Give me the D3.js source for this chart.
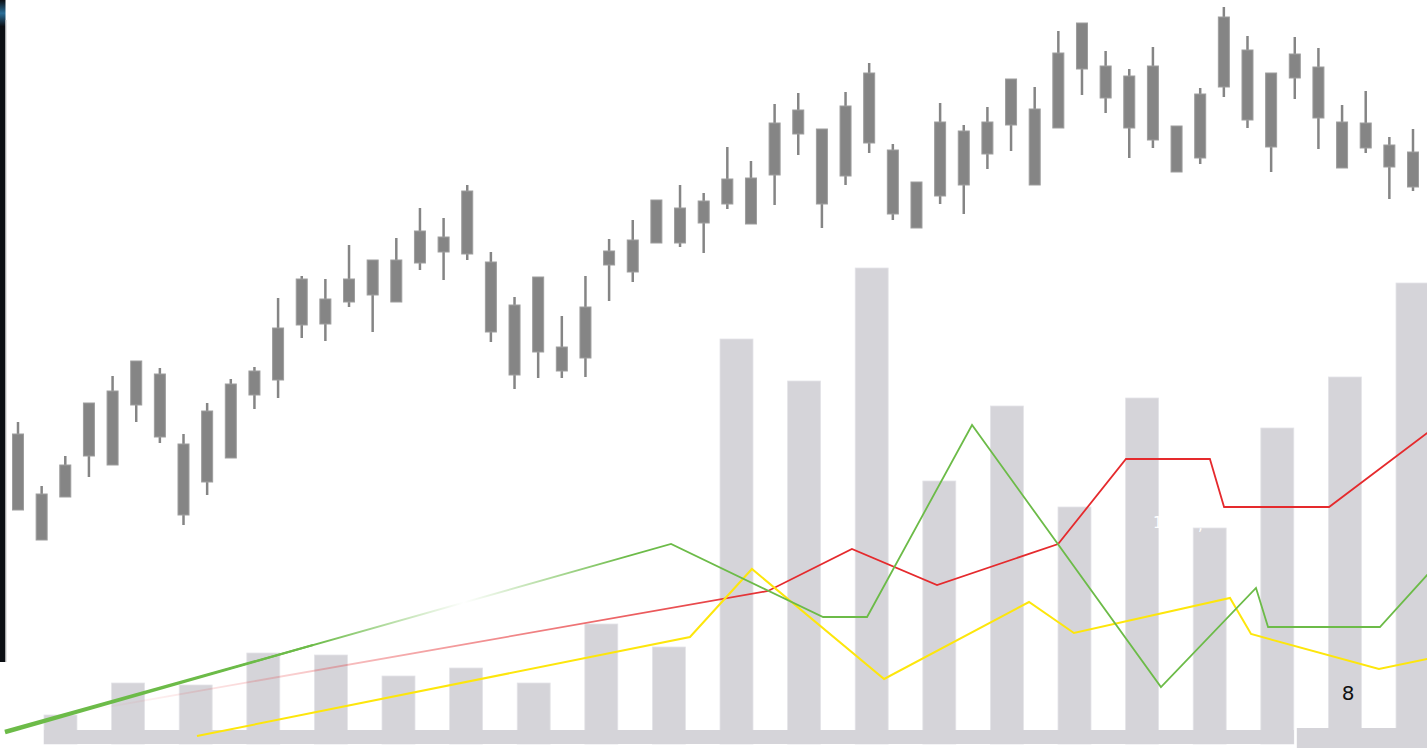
<!DOCTYPE html>
<html>
<head>
<meta charset="utf-8">
<script src="https://cdn.jsdelivr.net/npm/d3@7"></script>
<style>
  html, body { margin: 0; padding: 0; background: #fff; overflow: hidden; }
  svg { display: block; }
</style>
</head>
<body>
<div id="chart"></div>
<script>
const WIDTH = 1427;
const HEIGHT = 748;

// 60 sessions, price units (all candles drawn in the same grey)
const CANDLE_HIGH = [35.6, 22.8, 28.8, 39.4, 44.8, 47.8, 46.4, 33.2, 39.4, 44.2,
  46.6, 60.4, 64.8, 64.2, 71.0, 68.0, 72.4, 78.4, 76.4, 83.0,
  69.6, 60.6, 64.6, 56.8, 64.8, 72.2, 76.0, 80.0, 83.0, 81.4,
  90.6, 87.8, 99.2, 101.4, 94.2, 101.6, 107.4, 91.2, 83.6, 99.4,
  95.0, 98.6, 104.2, 102.6, 113.8, 115.4, 109.8, 106.2, 110.6, 94.8,
  102.4, 118.6, 112.8, 105.4, 112.6, 110.4, 99.0, 101.8, 92.6, 94.2];
const BODY_TOP = [33.2, 21.2, 27.0, 39.4, 41.8, 47.8, 45.2, 31.2, 37.8, 43.2,
  45.8, 54.4, 64.2, 60.2, 64.2, 68.0, 68.0, 73.8, 72.6, 81.8,
  67.6, 59.0, 64.6, 50.6, 58.6, 69.8, 72.0, 80.0, 78.4, 79.8,
  84.2, 84.4, 95.4, 98.0, 94.2, 98.8, 105.4, 90.0, 83.6, 95.6,
  93.8, 95.6, 104.2, 98.2, 109.4, 115.4, 106.8, 104.8, 106.8, 94.8,
  101.2, 116.6, 110.0, 105.4, 109.2, 106.6, 95.6, 95.4, 91.0, 89.6];
const BODY_BOTTOM = [18.0, 12.0, 20.6, 28.8, 27.0, 39.0, 32.6, 17.0, 23.6, 28.4,
  41.0, 44.0, 55.0, 55.2, 59.6, 61.0, 59.6, 67.4, 69.6, 69.2,
  53.6, 45.0, 49.6, 45.8, 48.4, 67.0, 65.6, 71.4, 71.4, 75.4,
  79.2, 75.2, 85.0, 93.2, 79.2, 84.8, 91.4, 77.2, 74.4, 80.8,
  83.0, 89.2, 95.0, 83.0, 94.4, 106.2, 100.4, 94.4, 92.0, 85.6,
  88.4, 102.6, 96.0, 90.6, 104.4, 96.4, 86.4, 90.4, 86.6, 82.6];
const CANDLE_LOW = [18.0, 12.0, 20.6, 24.6, 27.0, 35.6, 31.4, 15.0, 21.0, 28.4,
  38.2, 40.4, 52.4, 51.8, 58.6, 53.6, 59.6, 66.0, 64.0, 68.0,
  51.6, 42.2, 44.4, 44.4, 44.6, 59.8, 63.6, 71.4, 70.6, 69.4,
  78.2, 75.2, 79.0, 89.0, 74.4, 83.0, 89.4, 76.0, 74.4, 79.2,
  77.2, 86.2, 89.8, 83.0, 94.4, 101.0, 97.4, 88.4, 90.4, 85.6,
  87.2, 100.6, 94.4, 85.6, 100.2, 90.2, 86.4, 89.4, 80.2, 81.8];

// volume bars
const VOLUME = [5.8, 12.2, 11.8, 18.2, 17.8, 13.6, 15.2, 12.2, 24.0, 19.4,
  81.0, 72.6, 95.2, 52.6, 67.6, 47.4, 69.2, 43.2, 63.2, 73.4, 92.2];

// indicator lines: x in session index, y in indicator units
const GREEN_T = [-0.55, 27.62, 34.05, 35.91, 40.35, 48.34, 52.36, 52.87, 57.60, 60];
const GREEN_V = [2.0, 49.0, 30.75, 30.75, 78.75, 13.25, 38.0, 28.25, 28.25, 43.9];
const RED_T = [-0.55, 31.72, 35.27, 38.87, 43.99, 46.86, 50.41, 51.01, 55.45, 60];
const RED_V = [3.75, 37.25, 47.75, 38.75, 49.0, 70.25, 70.25, 58.25, 58.25, 78.55];
const YELLOW_T = [7.57, 28.42, 31.04, 36.63, 42.76, 44.66, 51.26, 52.15, 57.56, 60];
const YELLOW_V = [1.0, 25.75, 42.75, 15.25, 34.5, 26.75, 35.5, 26.5, 17.75, 20.75];

const GREEN = "#6cbb48";
const RED = "#e52a2d";
const YELLOW = "#fde60c";
const CANDLE_GREY = "#858585";
const BAR_GREY = "#d5d4d9";

const svg = d3.select('#chart').append('svg')
  .attr('width', WIDTH)
  .attr('height', HEIGHT);

const xCandle = d3.scaleLinear().domain([0, 59]).range([18, 1413]);
const yPrice = d3.scaleLinear().domain([0, 120]).range([600, 0]);
const xBar = d3.scaleBand().domain(d3.range(VOLUME.length)).range([44, 1429]).paddingInner(0.512);
const yVol = d3.scaleLinear().domain([0, 100]).range([744, 244]);
const yInd = d3.scaleLinear().domain([0, 80]).range([740, 420]);

const defs = svg.append('defs');

// left dark edge
const edge = defs.append('linearGradient').attr('id', 'edgeGlow')
  .attr('x1', 0).attr('y1', 0).attr('x2', 0).attr('y2', 1);
edge.append('stop').attr('offset', 0).attr('stop-color', '#0b0e13');
edge.append('stop').attr('offset', 0.02).attr('stop-color', '#2a6e98');
edge.append('stop').attr('offset', 0.04).attr('stop-color', '#0b0e13');
edge.append('stop').attr('offset', 1).attr('stop-color', '#0b0e13');
svg.append('rect').attr('x', 0).attr('y', 0).attr('width', 5.5).attr('height', 662)
  .attr('fill', 'url(#edgeGlow)');
svg.append('line').attr('x1', 6).attr('x2', 6).attr('y1', 20).attr('y2', 662)
  .attr('stroke', '#c8c8c8').attr('stroke-width', 1);

// volume bars
const bw = xBar.bandwidth();
svg.append('g').selectAll('rect')
  .data(VOLUME)
  .enter()
  .append('rect')
  .attr('x', (d, i) => xBar(i))
  .attr('y', d => yVol(d))
  .attr('width', bw)
  .attr('height', d => yVol(0) - yVol(d))
  .attr('fill', BAR_GREY)
  .attr('stroke', '#e4e4e8')
  .attr('stroke-width', 0.8);

// base band under the volume bars (drawn over the bar feet)
const lastLeft = 18;
svg.append('rect')
  .attr('x', xBar(0)).attr('y', yVol(2.8))
  .attr('width', xBar(lastLeft) + bw - xBar(0)).attr('height', yVol(0) - yVol(2.8))
  .attr('fill', BAR_GREY);
svg.append('rect')
  .attr('x', xBar(lastLeft) + bw + 3).attr('y', yVol(3.2))
  .attr('width', WIDTH - (xBar(lastLeft) + bw + 3)).attr('height', HEIGHT - yVol(3.2))
  .attr('fill', BAR_GREY);

// white value labels, barely visible against the bars
svg.append('text').attr('x', 1153).attr('y', 528)
  .attr('font-family', 'DejaVu Sans, sans-serif').attr('font-size', 15)
  .attr('fill', '#fff').text('14');
svg.append('text').attr('x', 1198).attr('y', 530)
  .attr('font-family', 'DejaVu Sans, sans-serif').attr('font-size', 15)
  .attr('fill', '#fff').text(',');

// indicator lines
function gradient(id, color, stops) {
  const g = defs.append('linearGradient').attr('id', id)
    .attr('gradientUnits', 'userSpaceOnUse')
    .attr('x1', 0).attr('y1', 0).attr('x2', WIDTH).attr('y2', 0);
  stops.forEach(s => g.append('stop').attr('offset', s[0])
    .attr('stop-color', color).attr('stop-opacity', s[1]));
}
gradient('greenFade', GREEN, [[0, 1], [0.22, 1], [0.325, 0], [0.44, 1], [1, 1]]);
gradient('redFade', RED, [[0, 0], [0.06, 0], [0.2, 0.22], [0.4, 0.65], [0.55, 1], [1, 1]]);

const line = d3.line().x(d => xCandle(d[0])).y(d => yInd(d[1]));
const greenPts = d3.zip(GREEN_T, GREEN_V);
const redPts = d3.zip(RED_T, RED_V);
const yellowPts = d3.zip(YELLOW_T, YELLOW_V);

// green gets a tapered start
{
  const p0 = [xCandle(greenPts[0][0]), yInd(greenPts[0][1])];
  const p1 = [xCandle(greenPts[1][0]), yInd(greenPts[1][1])];
  const len = Math.hypot(p1[0] - p0[0], p1[1] - p0[1]);
  const ux = (p1[0] - p0[0]) / len, uy = (p1[1] - p0[1]) / len;
  const nx = -uy, ny = ux;
  const k = 320 / len;
  const pm = [p0[0] + (p1[0] - p0[0]) * k, p0[1] + (p1[1] - p0[1]) * k];
  svg.append('path')
    .attr('d', d3.line()([
      [p0[0] + nx * 2.4, p0[1] + ny * 2.4],
      [pm[0] + nx * 1, pm[1] + ny * 1],
      [pm[0] - nx * 1, pm[1] - ny * 1],
      [p0[0] - nx * 2.4, p0[1] - ny * 2.4]
    ]) + 'Z')
    .attr('fill', GREEN);
}

svg.append('path').attr('d', line(redPts))
  .attr('fill', 'none').attr('stroke', 'url(#redFade)').attr('stroke-width', 1.8);
svg.append('path').attr('d', line(yellowPts))
  .attr('fill', 'none').attr('stroke', YELLOW).attr('stroke-width', 2);
svg.append('path').attr('d', line(greenPts))
  .attr('fill', 'none').attr('stroke', 'url(#greenFade)').attr('stroke-width', 1.8);

// candles
const candles = svg.append('g').selectAll('g')
  .data(d3.range(CANDLE_HIGH.length))
  .enter()
  .append('g');

candles.append('line')
  .attr('x1', i => xCandle(i)).attr('x2', i => xCandle(i))
  .attr('y1', i => yPrice(CANDLE_HIGH[i]))
  .attr('y2', i => yPrice(CANDLE_LOW[i]))
  .attr('stroke', CANDLE_GREY)
  .attr('stroke-width', 2.5);

candles.append('rect')
  .attr('x', i => xCandle(i) - 5.5)
  .attr('y', i => yPrice(BODY_TOP[i]))
  .attr('width', 11)
  .attr('height', i => yPrice(BODY_BOTTOM[i]) - yPrice(BODY_TOP[i]))
  .attr('fill', CANDLE_GREY)
  .attr('stroke', '#9d9d9d')
  .attr('stroke-width', 1);

svg.append('text').attr('x', 1348).attr('y', 700)
  .attr('text-anchor', 'middle')
  .attr('font-family', 'DejaVu Sans, sans-serif').attr('font-size', 20)
  .attr('fill', '#111').text('8');
</script>
</body>
</html>
